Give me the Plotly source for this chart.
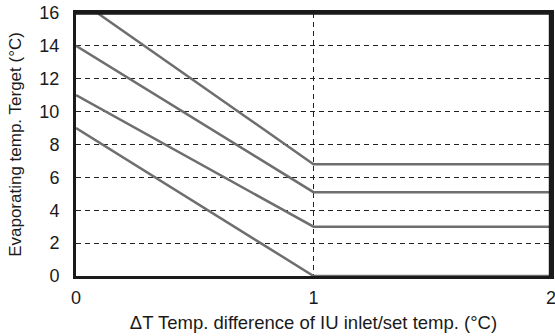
import plotly.graph_objects as go

# curvas (x = ΔT, y = temperatura de evaporação alvo)
dt_1 = [0.09, 1, 2]
evap_1 = [16, 6.8, 6.8]
dt_2 = [0, 1, 2]
evap_2 = [14, 5.1, 5.1]
dt_3 = [0, 1, 2]
evap_3 = [11, 3, 3]
dt_4 = [0, 1, 2]
evap_4 = [9, 0, 0]

x_ticks = [0, 1, 2]
y_ticks = [0, 2, 4, 6, 8, 10, 12, 14, 16]

fig = go.Figure()

for xs, ys in [(dt_1, evap_1), (dt_2, evap_2), (dt_3, evap_3), (dt_4, evap_4)]:
    fig.add_trace(go.Scatter(
        x=xs, y=ys,
        mode='lines',
        line=dict(color='#6e6e6e', width=2.5),
        showlegend=False,
        hoverinfo='skip',
        cliponaxis=False,
    ))

font = "Liberation Sans, Arial, sans-serif"

fig.update_layout(
    width=555,
    height=336,
    margin=dict(l=76, r=4, t=13, b=60),
    plot_bgcolor="white",
    paper_bgcolor="white",
    font=dict(family=font, color="#1a1a1a", size=18),
)

# moldura do gráfico (topo e direita)
fig.add_shape(type="line", xref="paper", yref="paper",
              x0=0, x1=1, y0=0.998, y1=0.998,
              line=dict(color="#1a1a1a", width=2.5), layer="above")
fig.add_shape(type="line", xref="paper", yref="paper",
              x0=0.998, x1=0.998, y0=0, y1=1,
              line=dict(color="#1a1a1a", width=2.5), layer="above")

fig.update_xaxes(
    range=[0, 2],
    tickvals=x_ticks,
    automargin=False,
    ticklabeloverflow="allow",
    showgrid=True,
    gridcolor="#222222",
    gridwidth=1,
    griddash="5px,4px",
    zeroline=False,
    showline=True,
    linecolor="#1a1a1a",
    linewidth=3,
    mirror=True,
    ticks="",
    ticklabelstandoff=3,
    tickfont=dict(size=18),
    title=dict(text="ΔT Temp. difference of IU inlet/set temp. (°C)",
               font=dict(size=18.5), standoff=10),
)

fig.update_yaxes(
    range=[0, 16],
    tickvals=y_ticks,
    automargin=False,
    ticklabeloverflow="allow",
    showgrid=True,
    gridcolor="#222222",
    gridwidth=1,
    griddash="5px,4px",
    zeroline=False,
    showline=True,
    linecolor="#1a1a1a",
    linewidth=3,
    mirror=True,
    ticks="",
    ticklabelstandoff=10,
    tickfont=dict(size=18),
    title=dict(text="Evaporating temp. Terget (°C)",
               font=dict(size=17), standoff=14),
)

# tira a margem padrão do body para a figura ficar no canto da janela
fig.write_html("out.html", config={"displayModeBar": False},
               post_script="document.body.style.margin='0';")
